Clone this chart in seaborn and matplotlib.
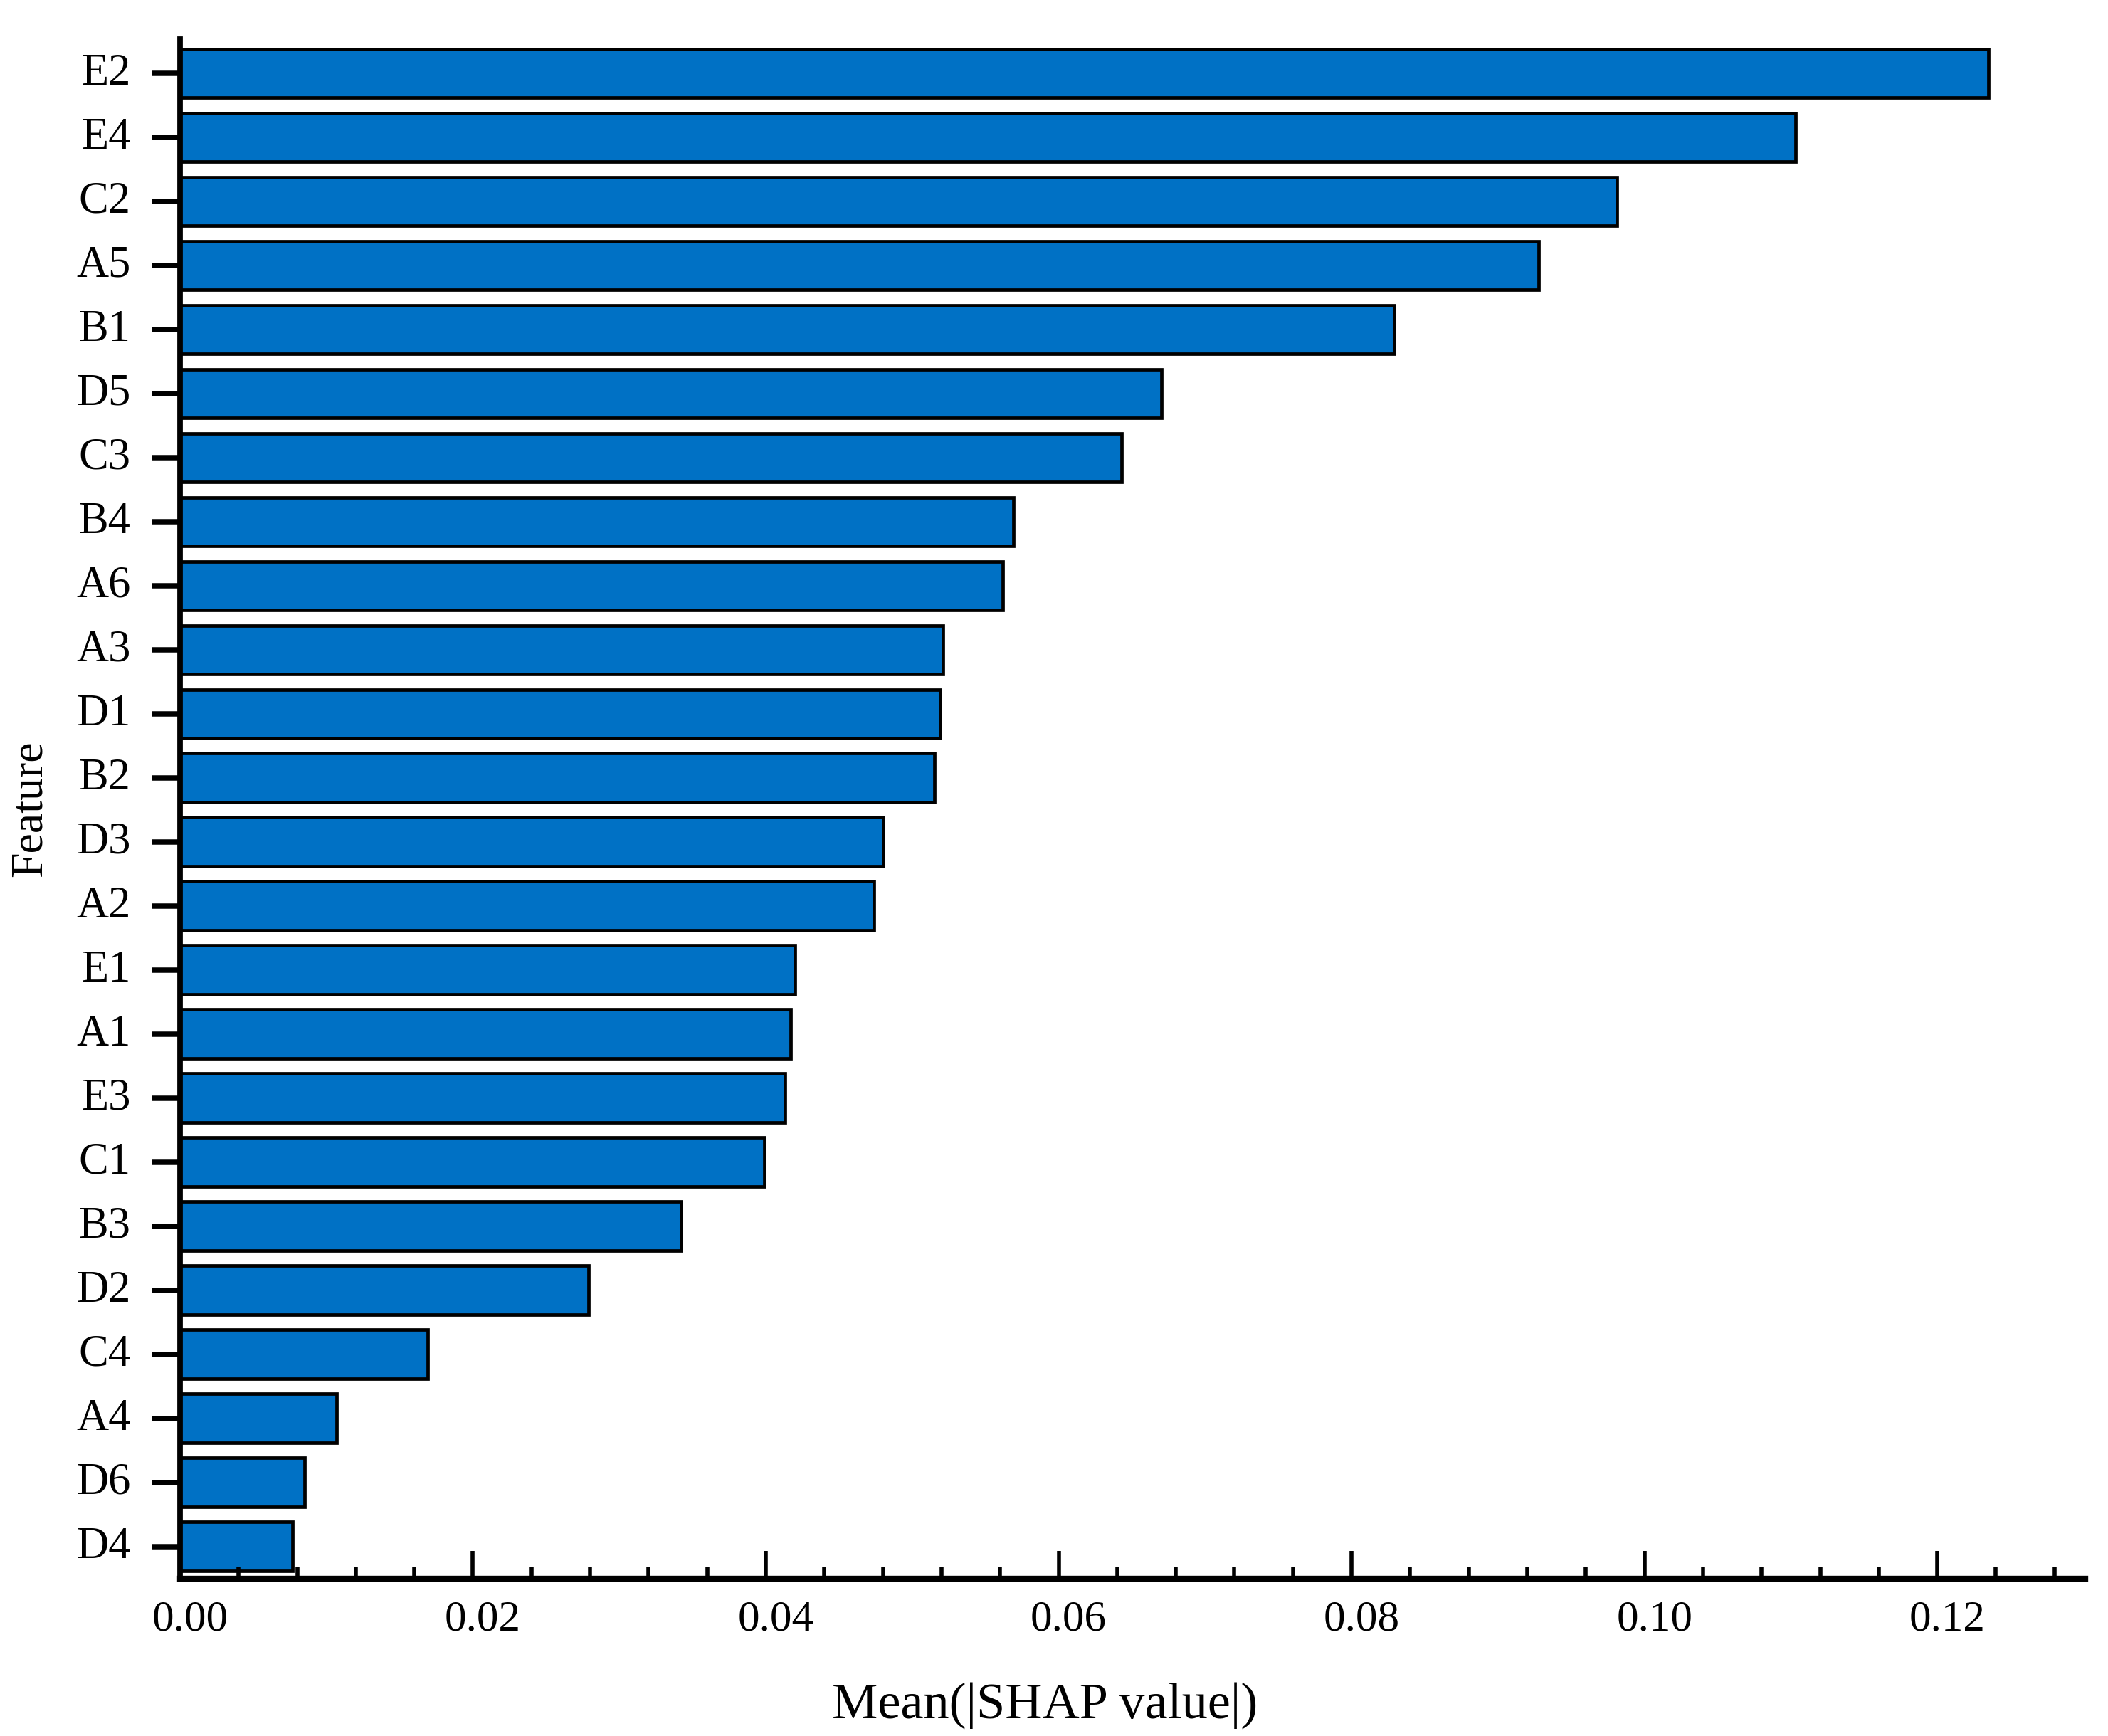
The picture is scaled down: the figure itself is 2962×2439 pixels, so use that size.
import matplotlib
matplotlib.use("Agg")
import matplotlib.pyplot as plt
import matplotlib.transforms as mtransforms
from matplotlib.ticker import MultipleLocator, FormatStrFormatter
import seaborn as sns
import pandas as pd

features = ["E2", "E4", "C2", "A5", "B1", "D5", "C3", "B4", "A6", "A3", "D1", "B2",
            "D3", "A2", "E1", "A1", "E3", "C1", "B3", "D2", "C4", "A4", "D6", "D4"]
mean_shap = [0.1235, 0.1103, 0.0981, 0.0928, 0.0829, 0.0670, 0.0643, 0.0569,
             0.0562, 0.0521, 0.0519, 0.0515, 0.0480, 0.0474, 0.0420, 0.0417,
             0.0413, 0.0399, 0.0342, 0.0279, 0.0169, 0.0107, 0.0085, 0.0077]
xticks = [0.00, 0.02, 0.04, 0.06, 0.08, 0.10, 0.12]

df = pd.DataFrame({"Feature": features, "value": mean_shap})

plt.rcParams["font.family"] = ["Liberation Serif", "DejaVu Serif"]

fig = plt.figure(figsize=(14.81, 12.195), dpi=200)
ax = fig.add_axes([0.0854, 0.0908, 0.9892 - 0.0854, 0.9774 - 0.0908])

sns.barplot(data=df, x="value", y="Feature", orient="h", color="#0071C5",
            saturation=1, edgecolor="black", linewidth=1.7, width=0.76, ax=ax)

ax.set_xlim(0, 0.1301)
ax.set_ylim(23.5, -0.53)

ax.spines["top"].set_visible(False)
ax.spines["right"].set_visible(False)
ax.spines["bottom"].set_linewidth(3.0)
ax.spines["left"].set_linewidth(2.8)

ax.set_xticks(xticks)
ax.xaxis.set_major_formatter(FormatStrFormatter("%.2f"))
ax.xaxis.set_minor_locator(MultipleLocator(0.004))
ax.tick_params(axis="x", which="major", direction="in", length=14, width=2.0,
               labelsize=22, pad=11)
ax.tick_params(axis="x", which="minor", direction="in", length=6.3, width=2.0)
ax.tick_params(axis="y", which="major", direction="out", length=14, width=2.7,
               labelsize=22.5, pad=11)

xoffset = mtransforms.ScaledTranslation(0.07, 0, fig.dpi_scale_trans)
for lab in ax.get_xticklabels():
    lab.set_transform(lab.get_transform() + xoffset)
yoffset = mtransforms.ScaledTranslation(0, 0.03, fig.dpi_scale_trans)
for lab in ax.get_yticklabels():
    lab.set_transform(lab.get_transform() + yoffset)

ax.set_xlabel("Mean(|SHAP value|)", fontsize=26)
ax.xaxis.set_label_coords(0.454, -0.0825)
ax.xaxis.label.set_verticalalignment("center")
ax.set_ylabel("Feature", fontsize=23)
ax.yaxis.set_label_coords(-0.0784, 0.5)
ax.yaxis.label.set_verticalalignment("center")

fig.savefig("out.png", dpi=200, facecolor="white")
